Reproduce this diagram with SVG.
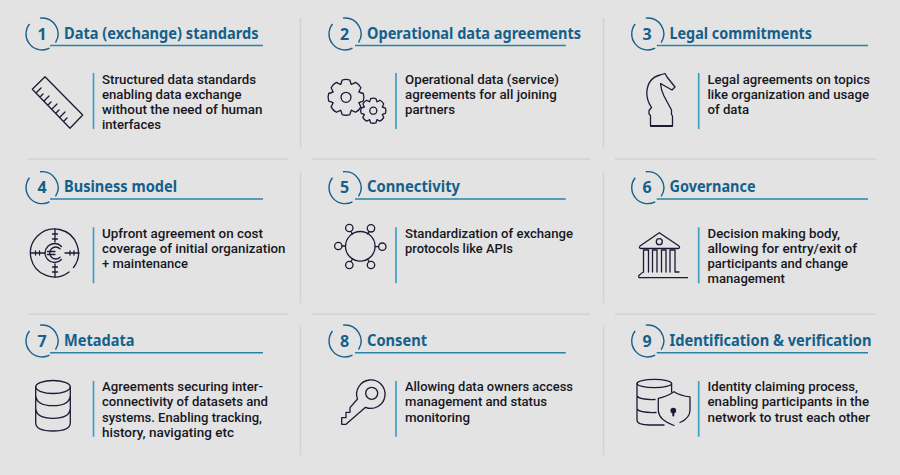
<svg xmlns="http://www.w3.org/2000/svg" xmlns:xlink="http://www.w3.org/1999/xlink" width="900" height="475" viewBox="0 0 900 475">
<defs>
<style>
.t{font:700 16px "Noto Sans","Open Sans",sans-serif;fill:#14608a}
.n{font:700 16px "Noto Sans","Open Sans",sans-serif;fill:#14608a;text-anchor:middle}
.b{font:500 12.8px Roboto,"Noto Sans",sans-serif;fill:#17171f}
.c{fill:none;stroke:#14608a;stroke-width:1.4}
.l{fill:none;stroke:#2a82a8;stroke-width:1.6}
.v{fill:none;stroke:#3f9fc0;stroke-width:1.7}
.i{fill:none;stroke:#1c1a36;stroke-width:1.3;stroke-linejoin:round;stroke-linecap:round}
.s{fill:none;stroke:#d2d2d0;stroke-width:1.4}
</style>
<path id="badge" class="c" d="M-2 -15.900A16 16 0 0 1 13.500 8.600M7.500 14.100A16 16 0 0 1 -12.500 -10"/>
<path id="tooth" d="M-5.400 -13Q-4.500 -14.500 -3.800 -17.300Q0 -18.600 3.800 -17.300Q4.500 -14.500 5.400 -13"/>
<g id="gear"><use xlink:href="#tooth"/><use xlink:href="#tooth" transform="rotate(45)"/><use xlink:href="#tooth" transform="rotate(90)"/><use xlink:href="#tooth" transform="rotate(135)"/><use xlink:href="#tooth" transform="rotate(180)"/><use xlink:href="#tooth" transform="rotate(225)"/><use xlink:href="#tooth" transform="rotate(270)"/><use xlink:href="#tooth" transform="rotate(315)"/></g>
</defs>
<rect width="900" height="475" fill="#e3e3e3"/>
<g id="separators" class="s">
<path d="M28 159H288M312 159H590M615 159H876M28 314.300H288M312 314.300H590M615 314.300H876"/>
<path d="M300.500 18V148M300.500 172V303M300.500 325V455M603.500 18V148M603.500 172V303M603.500 325V455"/>
</g>

<g id="card1">
<use xlink:href="#badge" x="42" y="34"/><path class="l" d="M50 45.500H263"/><path class="v" d="M93.500 73V129"/>
<text class="n" x="42" y="39.500">1</text><text class="t" x="64" y="38.700" textLength="194.500" lengthAdjust="spacingAndGlyphs">Data (exchange) standards</text>
<text class="b" x="102" y="84" textLength="154" lengthAdjust="spacingAndGlyphs">Structured data standards</text><text class="b" x="102" y="99" textLength="139.500" lengthAdjust="spacingAndGlyphs">enabling data exchange</text><text class="b" x="102" y="114.300" textLength="160.500" lengthAdjust="spacingAndGlyphs">without the need of human</text><text class="b" x="102" y="129.300" textLength="59" lengthAdjust="spacingAndGlyphs">interfaces</text>
<path class="i" d="M32.300 89.300L45 76.700L82.700 115L70 128.300ZM36 93l5-5M40 97l3-3M44 101l5-5M48 105l3-3M52 109l5-5M56 113l3-3M60 117l5-5M64 121l3-3"/>
</g>

<g id="card2">
<use xlink:href="#badge" x="345" y="34"/><path class="l" d="M355 45.500H565.700"/><path class="v" d="M396 73V129"/>
<text class="n" x="344.700" y="39.500">2</text><text class="t" x="367" y="38.700" textLength="214" lengthAdjust="spacingAndGlyphs">Operational data agreements</text>
<text class="b" x="405" y="84" textLength="154" lengthAdjust="spacingAndGlyphs">Operational data (service)</text><text class="b" x="405" y="99" textLength="151.700" lengthAdjust="spacingAndGlyphs">agreements for all joining</text><text class="b" x="405" y="114.300" textLength="50" lengthAdjust="spacingAndGlyphs">partners</text>
<g class="i"><use xlink:href="#gear" transform="translate(346 97.300)"/><circle cx="346" cy="97.300" r="5"/><use xlink:href="#gear" transform="translate(373.300 110.700) scale(.7)" style="stroke-width:1.860"/><circle cx="373.300" cy="110.700" r="3.500"/></g>
</g>

<g id="card3">
<use xlink:href="#badge" x="647.700" y="34"/><path class="l" d="M656.700 45.500H868"/><path class="v" d="M698.700 73V129"/>
<text class="n" x="647" y="39.500">3</text><text class="t" x="669.500" y="38.700" textLength="142.500" lengthAdjust="spacingAndGlyphs">Legal commitments</text>
<text class="b" x="707.500" y="84" textLength="162.500" lengthAdjust="spacingAndGlyphs">Legal agreements on topics</text><text class="b" x="707.500" y="99" textLength="161.500" lengthAdjust="spacingAndGlyphs">like organization and usage</text><text class="b" x="707.500" y="114.300" textLength="41.500" lengthAdjust="spacingAndGlyphs">of data</text>
<path class="i" d="M650.500 126V115.500L649 114V110.500L651.500 107.500Q646.500 100 646.800 92Q648 78 660 75L665 73.500L667 77L675 87L672 90L660.500 83.500Q661 90 664 96L671.500 110V114.500L672.500 116V126ZM650.500 126H672.500"/>
<path class="i" d="M651 126H672" style="stroke-width:1.800"/>
</g>

<g id="card4">
<use xlink:href="#badge" x="42" y="187.700"/><path class="l" d="M50 199H263"/><path class="v" d="M93.500 227.300V283.300"/>
<text class="n" x="42" y="193">4</text><text class="t" x="64" y="192" textLength="113" lengthAdjust="spacingAndGlyphs">Business model</text>
<text class="b" x="102" y="237.700" textLength="161" lengthAdjust="spacingAndGlyphs">Upfront agreement on cost</text><text class="b" x="102" y="253" textLength="183.500" lengthAdjust="spacingAndGlyphs">coverage of initial organization</text><text class="b" x="102" y="268" textLength="86" lengthAdjust="spacingAndGlyphs">+ maintenance</text>
<g class="i"><path d="M69 272A24 24 0 1 1 73.500 267.500"/><path d="M55 229V242M55 264V277M31 253H45M65 253H79M52.500 234H57.500M52.500 239H57.500M52.500 267H57.500M52.500 272H57.500M35.500 251V255M39.500 251V255M70 251V255M74 251V255"/><path d="M61.500 246.500A9.500 9.500 0 1 0 61.500 259.500M60 248.800A6 6 0 1 0 60 257.200M47.500 251.500H55M47.500 254.500H55"/></g>
</g>

<g id="card5">
<use xlink:href="#badge" x="345" y="187.700"/><path class="l" d="M355 199H565.700"/><path class="v" d="M396 227.300V283.300"/>
<text class="n" x="344.700" y="193">5</text><text class="t" x="367" y="192" textLength="93" lengthAdjust="spacingAndGlyphs">Connectivity</text>
<text class="b" x="405" y="237.700" textLength="168" lengthAdjust="spacingAndGlyphs">Standardization of exchange</text><text class="b" x="405" y="253" textLength="108" lengthAdjust="spacingAndGlyphs">protocols like APIs</text>
<g class="i"><circle cx="360.300" cy="246.300" r="14.800"/><circle cx="349.300" cy="228" r="3.700"/><circle cx="371" cy="228.300" r="3.700"/><circle cx="382.300" cy="246.700" r="3.700"/><circle cx="338.300" cy="246" r="3.700"/><circle cx="349.300" cy="265" r="3.700"/><circle cx="371" cy="265" r="3.700"/><path d="M351 231.500L352.500 234M369 231.500L367.500 234M378.600 246.700H375M342 246H345.500M351 261.500L352.500 259M369 261.500L367.500 259"/></g>
</g>

<g id="card6">
<use xlink:href="#badge" x="647.700" y="187.700"/><path class="l" d="M656.700 199H868"/><path class="v" d="M698.700 227.300V283.300"/>
<text class="n" x="647" y="193">6</text><text class="t" x="669.500" y="192" textLength="86" lengthAdjust="spacingAndGlyphs">Governance</text>
<text class="b" x="707.500" y="237.700" textLength="132.500" lengthAdjust="spacingAndGlyphs">Decision making body,</text><text class="b" x="707.500" y="253" textLength="149.500" lengthAdjust="spacingAndGlyphs">allowing for entry/exit of</text><text class="b" x="707.500" y="268" textLength="140.500" lengthAdjust="spacingAndGlyphs">participants and change</text><text class="b" x="707.500" y="283.300" textLength="77.500" lengthAdjust="spacingAndGlyphs">management</text>
<g class="i"><path d="M659.300 232.700L640 246Q638.500 248.500 641 248.500H678Q680.500 248.500 679 246Z"/><circle cx="659.300" cy="241.700" r="3"/><path d="M643.500 272V250H648.500V272M652.500 272V250H657V272M661.500 272V250H666V272M670 272V250H675V272H679"/><path d="M687.500 277.700H640Q638 277.700 639 275.500Q642 272.500 643.500 272"/></g>
</g>

<g id="card7">
<use xlink:href="#badge" x="42" y="341"/><path class="l" d="M50 352.700H263"/><path class="v" d="M93.500 381V436.700"/>
<text class="n" x="42" y="346.700">7</text><text class="t" x="64" y="346" textLength="70.500" lengthAdjust="spacingAndGlyphs">Metadata</text>
<text class="b" x="102" y="391" textLength="161" lengthAdjust="spacingAndGlyphs">Agreements securing inter-</text><text class="b" x="102" y="406" textLength="166" lengthAdjust="spacingAndGlyphs">connectivity of datasets and</text><text class="b" x="102" y="421.500" textLength="160" lengthAdjust="spacingAndGlyphs">systems. Enabling tracking,</text><text class="b" x="102" y="436.500" textLength="132" lengthAdjust="spacingAndGlyphs">history, navigating etc</text>
<g class="i"><ellipse cx="53" cy="387" rx="17.300" ry="6.500"/><path d="M35.700 387V423Q36 431 53 431Q70 431 70.300 423V387M35.700 395Q36 405.700 53 405.700Q70 405.700 70.300 395M35.700 408Q36 418.300 53 418.300Q70 418.300 70.300 408"/></g>
</g>

<g id="card8">
<use xlink:href="#badge" x="345" y="341"/><path class="l" d="M355 352.700H565.700"/><path class="v" d="M396 381V436.700"/>
<text class="n" x="344.700" y="346.700">8</text><text class="t" x="367" y="346" textLength="60" lengthAdjust="spacingAndGlyphs">Consent</text>
<text class="b" x="405" y="391" textLength="168" lengthAdjust="spacingAndGlyphs">Allowing data owners access</text><text class="b" x="405" y="406" textLength="142" lengthAdjust="spacingAndGlyphs">management and status</text><text class="b" x="405" y="421.500" textLength="65" lengthAdjust="spacingAndGlyphs">monitoring</text>
<g class="i"><path d="M365.500 407.300A14.200 14.200 0 1 0 357.500 399L350 407.700V412.300H346V417.700H341.700V424.300H346Z"/><circle cx="371.700" cy="393.300" r="6"/></g>
</g>

<g id="card9">
<use xlink:href="#badge" x="647.700" y="341"/><path class="l" d="M656.700 352.700H868"/><path class="v" d="M698.700 381V436.700"/>
<text class="n" x="647" y="346.700">9</text><text class="t" x="669.500" y="346" textLength="202" lengthAdjust="spacingAndGlyphs">Identification &amp; verification</text>
<text class="b" x="707.500" y="391" textLength="150.500" lengthAdjust="spacingAndGlyphs">Identity claiming process,</text><text class="b" x="707.500" y="406" textLength="161.500" lengthAdjust="spacingAndGlyphs">enabling participants in the</text><text class="b" x="707.500" y="421.500" textLength="162.500" lengthAdjust="spacingAndGlyphs">network to trust each other</text>
<g class="i"><ellipse cx="654.300" cy="383.500" rx="17.300" ry="4.200"/><path d="M637 383.500V420Q637 425 650 425H664M671.600 383.500V392M637 396Q640 400 655 399.500M637 409Q640 413 656 412.500"/><path d="M674 391.700Q666 397 658.300 398.300V411Q659 420 674 425.500M680 422.500Q690 418 690 410V396.800Q681 396 674 391.700"/><circle cx="673.300" cy="410.500" r="2.200" style="fill:#1c1a36"/><path d="M673.300 411V415.500" style="stroke-width:2"/></g>
</g>
</svg>
